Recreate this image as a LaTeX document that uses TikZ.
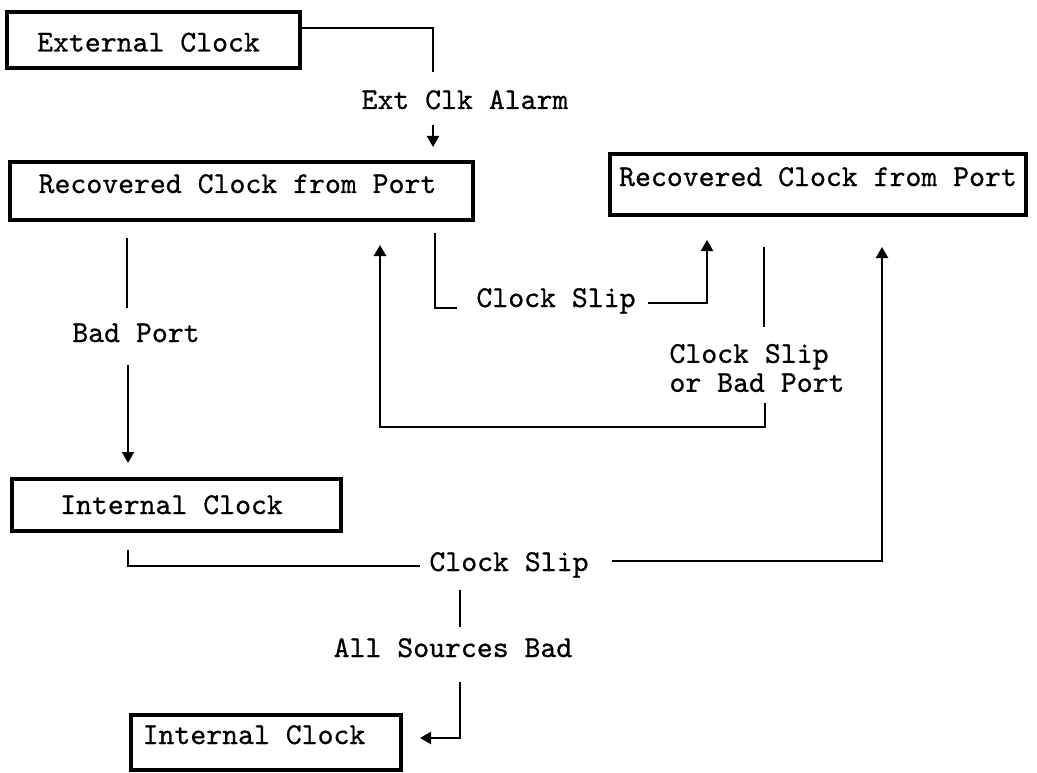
\documentclass[tikz,border=0pt]{standalone}
\usepackage{fontspec}
\newfontfamily\diagfont{lmmono10-regular.otf}[FakeBold=0.7]
\usetikzlibrary{arrows.meta}
\begin{document}
\begin{tikzpicture}[x=1pt,y=-1pt,
  every node/.style={font=\diagfont\fontsize{30.3}{29}\selectfont},
  box/.style={draw, line width=4pt, inner sep=0pt, text height=20pt, text depth=2pt},
  lbl/.style={inner sep=0pt, text height=20pt, text depth=2pt},
  link/.style={line width=2.2pt},
  arr/.style={link, -{Triangle[length=11pt,width=12pt]}}]
\useasboundingbox (0,0) rectangle (1037,773);
\fill[white] (0,0) rectangle (1037,773);

% states (trailing space moves the caption left of centre)
\node[box, minimum width=293pt, minimum height=56pt, text height=25pt] (ext) at (153.5,40) {External Clock\hspace*{10pt}};
\node[box, minimum width=463pt, minimum height=58pt, text depth=16pt] (rec1) at (241.5,191) {Recovered Clock from Port\hspace*{8pt}};
\node[box, minimum width=416pt, minimum height=61pt, text depth=17pt] (rec2) at (818,184.5) {Recovered Clock from Port};
\node[box, minimum width=329pt, minimum height=52pt] (int1) at (176.5,505) {Internal Clock\hspace*{10pt}};
\node[box, minimum width=270pt, minimum height=55pt, text depth=17pt] (int2) at (266,742.5) {Internal Clock\hspace*{24pt}};

% transition labels
\node[lbl] (alarm) at (465,100) {Ext Clk Alarm};
\node[lbl] (badport) at (136,333) {Bad Port};
\node[lbl] (slipA) at (556,298) {Clock Slip};
\node[lbl, align=left, text height=, text depth=] (slipB) at (757,368) {Clock Slip\\or Bad Port};
\node[lbl] (slipC) at (509,562) {Clock Slip};
\node[lbl] (allbad) at (453,648) {All Sources Bad};

% line ends around the labels
\coordinate (a1) at (433,72);
\coordinate (a2) at (433,125);
\coordinate (a3) at (433,147);
\coordinate (b1) at (127,238);
\coordinate (b2) at (127,308);
\coordinate (b3) at (128,365);
\coordinate (b4) at (128,463);
\coordinate (c1) at (435,233);
\coordinate (c2) at (457,308);
\coordinate (c3) at (648,303);
\coordinate (c4) at (707,240);
\coordinate (d1) at (764,247);
\coordinate (d2) at (764,327);
\coordinate (d3) at (765,403);
\coordinate (d4) at (765,427);
\coordinate (d5) at (380,245);
\coordinate (e1) at (128,550);
\coordinate (e2) at (420,566);
\coordinate (e3) at (612,561);
\coordinate (e4) at (882,247);
\coordinate (f1) at (460,590);
\coordinate (f2) at (460,627);
\coordinate (f3) at (460,682);
\coordinate (f4) at (420,738);

% External Clock -> Recovered Clock (left)
\draw[link] ([yshift=12pt]ext.east) -| (a1);
\draw[arr] (a2) -- (a3);

% Recovered Clock (left) -> Internal Clock
\draw[link] (b1) -- (b2);
\draw[arr] (b3) -- (b4);

% Recovered Clock (left) -> Recovered Clock (right)
\draw[link] (c1) |- (c2);
\draw[arr] (c3) -| (c4);

% Recovered Clock (right) -> Recovered Clock (left)
\draw[link] (d1) -- (d2);
\draw[arr] (d3) -- (d4) -| (d5);

% Internal Clock -> Recovered Clock (right)
\draw[link] (e1) |- (e2);
\draw[arr] (e3) -| (e4);

% Internal Clock -> Internal Clock
\draw[link] (f1) -- (f2);
\draw[arr] (f3) |- (f4);
\end{tikzpicture}
\end{document}
